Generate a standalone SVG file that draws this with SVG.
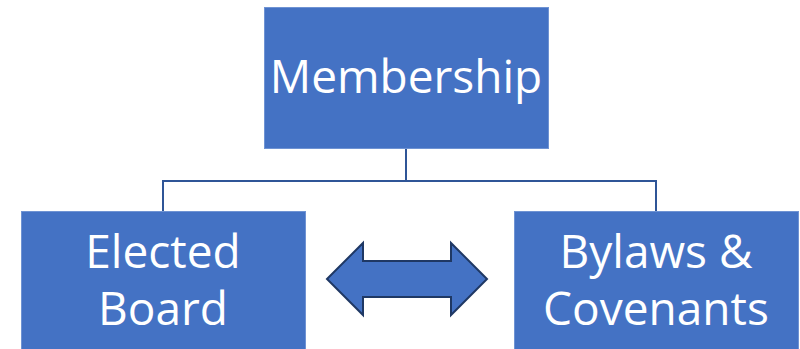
<svg xmlns="http://www.w3.org/2000/svg" width="800" height="349" viewBox="0 0 800 349">
  <style>
    .box { fill: #4472C4; stroke: #6f93d3; stroke-width: 1; }
    .label { font-family: "Open Sans", "Noto Sans", "Liberation Sans", sans-serif; font-size: 46px; fill: #ffffff; text-anchor: middle; }
    .link { fill: none; stroke: #2F5597; stroke-width: 2; }
    .dbl { fill: #4472C4; stroke: #1F3864; stroke-width: 2; stroke-linejoin: miter; }
  </style>
  <rect width="800" height="349" fill="#ffffff"/>

  <g id="connectors">
    <path class="link" d="M406,149 V181 M163,181 H656 M163,180 V212 M656,180 V212"/>
  </g>

  <g id="membership">
    <rect class="box" x="264.5" y="7.5" width="284" height="141"/>
    <text class="label" x="406" y="93">Membership</text>
  </g>

  <g id="elected-board">
    <rect class="box" x="21.5" y="211.5" width="284" height="140"/>
    <text class="label" x="163" y="268">Elected</text>
    <text class="label" x="163" y="325">Board</text>
  </g>

  <g id="bylaws-covenants">
    <rect class="box" x="514.5" y="211.5" width="284" height="140"/>
    <text class="label" x="656" y="268">Bylaws &amp;</text>
    <text class="label" x="656" y="325">Covenants</text>
  </g>

  <g id="link-arrow">
    <polygon class="dbl" points="327,279 363,243 363,261 451,261 451,243 487,279 451,315 451,297 363,297 363,315"/>
  </g>
</svg>
